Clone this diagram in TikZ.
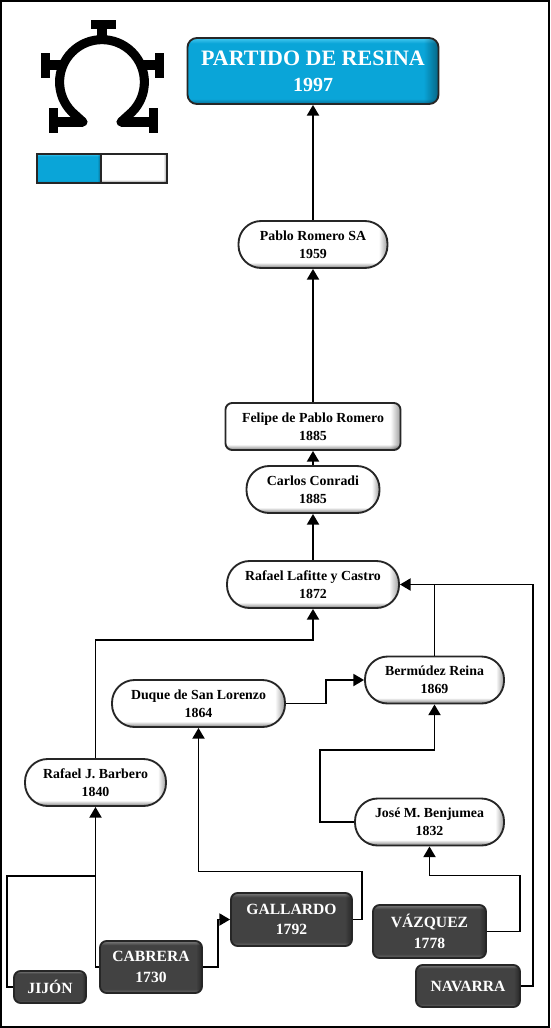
\documentclass[tikz,border=0pt]{standalone}
\usepackage{fontspec}
\setmainfont{Liberation Serif}
\usepackage{xcolor}
\usepackage{tikz}
\usetikzlibrary{arrows.meta, positioning, fadings}
\definecolor{ResinaBlue}{RGB}{10, 165, 216}
\definecolor{ResinaBlueTop}{RGB}{70, 200, 240}
\definecolor{ResinaBlueLow}{RGB}{6, 110, 150}
\definecolor{ResinaDark}{RGB}{66, 66, 66}
\definecolor{ResinaDarkTop}{RGB}{125, 125, 125}
\definecolor{ResinaDarkLow}{RGB}{105, 105, 105}
\pgfdeclareverticalshading{whitebevel}{100bp}{color(0bp)=(black!50); color(25bp)=(black!50); color(31bp)=(white); color(100bp)=(white)}
\pgfdeclareverticalshading{bluebevel}{100bp}{color(0bp)=(ResinaBlueLow); color(25bp)=(ResinaBlueLow); color(29bp)=(ResinaBlue); color(71bp)=(ResinaBlue); color(75bp)=(ResinaBlueTop); color(100bp)=(ResinaBlueTop)}
\pgfdeclareverticalshading{darkbevel}{100bp}{color(0bp)=(ResinaDarkLow); color(25bp)=(ResinaDarkLow); color(29bp)=(ResinaDark); color(71bp)=(ResinaDark); color(75bp)=(ResinaDarkTop); color(100bp)=(ResinaDarkTop)}
\pgfdeclarehorizontalshading{eastedgeshade}{100bp}{color(0bp)=(pgftransparent!100); color(72bp)=(pgftransparent!100); color(75bp)=(pgftransparent!0); color(100bp)=(pgftransparent!0)}
\pgfdeclarefading{eastedge}{\pgfuseshading{eastedgeshade}}

\begin{document}
\begin{tikzpicture}[
    x=0.75pt, y=-0.75pt,
    base/.style={rectangle, draw=black!85, line width=1.4pt, inner sep=0pt, align=center, font=\fontsize{10.4}{13.5}\selectfont\bfseries,
      path picture={\fill[black, opacity=0.4, path fading=eastedge] (path picture bounding box.south west) rectangle (path picture bounding box.north east);}},
    pill/.style={base, shading=whitebevel, rounded corners=17pt, minimum height=35.25pt},
    plate/.style={base, shading=whitebevel, rounded corners=5pt, minimum height=35.25pt},
    origin/.style={base, shading=darkbevel, rounded corners=5pt, text=white, font=\fontsize{11.7}{15.5}\selectfont\bfseries},
    final/.style={base, shading=bluebevel, rounded corners=7pt, text=white, font=\fontsize{16.5}{19.5}\selectfont\bfseries},
    arrow/.style={-{Triangle[length=8pt, width=9pt]}, line width=1.4pt, color=black},
    line/.style={line width=1.4pt, color=black},
    logo/.style={line width=6.8pt, color=black},
    logobar/.style={line width=6.8pt, color=black, line cap=butt}
  ]
    \useasboundingbox (0,0) rectangle (550,1028);
    \draw[line width=1.5pt] (1,1) rectangle (549,1027);

    \draw[logo, line cap=round, line join=round] (83,122) -- (72,112) arc[start angle=135, end angle=405, radius=42.4] -- (121,122);
    \draw[logo] (83,122) -- (54,122);
    \draw[logo] (121,122) -- (153,122);
    \draw[logo] (102,40) -- (102,24);
    \draw[logo] (61,65) -- (45,65);
    \draw[logo] (143,65) -- (160,65);
    \draw[logobar] (91,24.5) -- (116,24.5);
    \draw[logobar] (45.5,53) -- (45.5,78);
    \draw[logobar] (159.5,53) -- (159.5,78);
    \draw[logobar] (53.5,108) -- (53.5,133);
    \draw[logobar] (153.5,108) -- (153.5,133);

    \node[base, shading=bluebevel, minimum width=48pt, minimum height=21.75pt] (keyblue) at (69,168.5) {};
    \node[base, shading=whitebevel, minimum width=49.5pt, minimum height=21.75pt, right=-1.4pt of keyblue] (keywhite) {};

    \node[pill, minimum width=129pt] (lafitte) at (313,584.5) {Rafael Lafitte y Castro\\1872};
    \node[pill, minimum width=99.75pt, above=34.6pt of lafitte] (conradi) {Carlos Conradi\\1885};
    \node[plate, minimum width=131.25pt, above=10.6pt of conradi] (felipe) {Felipe de Pablo Romero\\1885};
    \node[pill, minimum width=111.75pt, above=99.85pt of felipe] (pablo) {Pablo Romero SA\\1959};
    \node[final, minimum width=188.25pt, minimum height=49.5pt, above=86.35pt of pablo] (partido) {PARTIDO DE RESINA\\{\fontsize{15}{19.5}\selectfont 1997}};

    \node[pill, minimum width=104.25pt] (bermudez) at (434.5,680) {Bermúdez Reina\\1869};
    \node[pill, minimum width=129.75pt] (duque) at (198.5,703.5) {Duque de San Lorenzo\\1864};
    \node[pill, minimum width=105.75pt] (barbero) at (95.5,782.5) {Rafael J. Barbero\\1840};
    \node[pill, minimum width=111.75pt] (jose) at (429.5,822) {José M. Benjumea\\1832};

    \node[origin, minimum width=90.75pt, minimum height=39.75pt] (gallardo) at (291.5,919.5) {GALLARDO\\1792};
    \node[origin, minimum width=84.75pt, minimum height=39.75pt] (vazquez) at (429.5,931.5) {VÁZQUEZ\\1778};
    \node[origin, minimum width=76.5pt, minimum height=39pt] (cabrera) at (151,967) {CABRERA\\1730};
    \node[origin, minimum width=54pt, minimum height=24pt] (jijon) at (50,987) {JIJÓN};
    \node[origin, minimum width=78pt, minimum height=31.5pt] (navarra) at (468,986) {NAVARRA};

    \coordinate (junction) at (95.5,876);

    \draw[arrow] (lafitte) -- (conradi);
    \draw[arrow] (conradi) -- (felipe);
    \draw[arrow] (felipe) -- (pablo);
    \draw[arrow] (pablo) -- (partido);
    \draw[arrow] (cabrera.west) -| (barbero.south);
    \draw[line] (jijon.west) -- ++(-6,0) |- (junction);
    \draw[arrow] (barbero.north) -- ++(0,-118) -| (lafitte.south);
    \draw[arrow] (cabrera.east) -- ++(15,0) |- (gallardo.west);
    \draw[arrow] (gallardo.east) -- ++(9,0) -- ++(0,-48) -| (duque.south);
    \draw[arrow] (duque.east) -- ++(40,0) |- (bermudez.west);
    \draw[arrow] (jose.west) -- ++(-34,0) -- ++(0,-72) -| (bermudez.south);
    \draw[arrow] (vazquez.east) -- ++(33,0) -- ++(0,-56) -| (jose.south);
    \draw[arrow] (navarra.east) -- ++(12,0) |- (lafitte.east);
    \draw[line] (bermudez.north) -- (bermudez.north |- lafitte.east);
  \end{tikzpicture}
\end{document}
